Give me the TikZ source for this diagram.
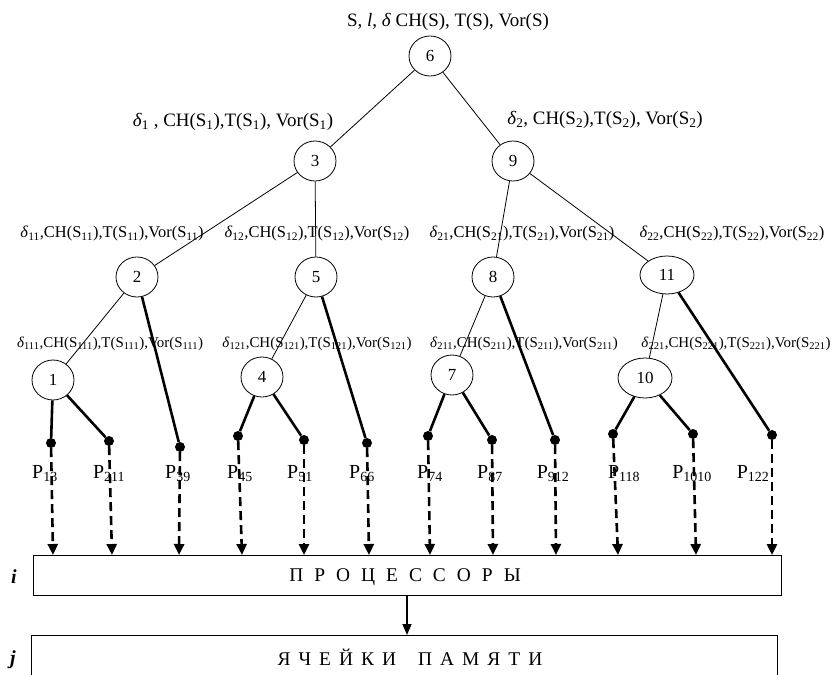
\documentclass[tikz,border=0pt]{standalone}
\usepackage{fontspec}
\setmainfont{Liberation Serif}
\usetikzlibrary{shapes.geometric,arrows.meta}

\newcommand\dl{\textit{δ}}
\newcommand\sbs[1]{\textsubscript{#1}}
\newcommand\ls{\kern 11bp}
\newcommand\lsm{\kern 8bp}

\begin{document}
\begin{tikzpicture}[x=1bp,y=-1bp,
  vertex/.style={draw, ellipse, inner sep=0pt, minimum width=42bp, minimum height=40bp,
                 font=\fontsize{17}{17}\selectfont, line width=0.8bp},
  wide/.style={minimum width=54bp, minimum height=38bp},
  thinedge/.style={line width=0.8bp},
  thickedge/.style={line width=2.6bp},
  leaf/.style={circle, fill, inner sep=0pt, minimum size=10bp},
  flow/.style={line width=2.6bp, dash pattern=on 9bp off 5bp,
               -{Triangle[width=10bp,length=11bp]}},
  toplabel/.style={font=\fontsize{19}{19}\selectfont, inner sep=0pt},
  midlabel/.style={font=\fontsize{16.5}{16.5}\selectfont, inner sep=0pt},
  lowlabel/.style={font=\fontsize{15}{15}\selectfont, inner sep=0pt},
  plabel/.style={font=\fontsize{20}{20}\selectfont, anchor=base, inner sep=0pt},
  bar/.style={draw, line width=0.8bp, inner sep=0pt},
  bartext/.style={font=\fontsize{19.5}{19.5}\selectfont, inner sep=0pt},
  sidetag/.style={font=\fontsize{20}{20}\selectfont\bfseries\itshape, inner sep=0pt},
]
\useasboundingbox (0,0) rectangle (836,675);

% tree vertices
\node[vertex] (n6) at (430,56) {6};
\node[vertex] (n3) at (315,161) {3};
\node[vertex] (n9) at (513,161) {9};
\node[vertex] (n2) at (137,277) {2};
\node[vertex] (n5) at (316,277) {5};
\node[vertex] (n8) at (493,277) {8};
\node[vertex,wide] (n11) at (667,275) {11};
\node[vertex] (n1) at (53,380) {1};
\node[vertex] (n4) at (262,377) {4};
\node[vertex] (n7) at (452,375) {7};
\node[vertex,wide,minimum height=40bp] (n10) at (645,378) {10};

% labels of the vertices
\node[toplabel] (t6) at (448,22) {S, \textit{l}, \dl\ CH(S), T(S), Vor(S)};
\node[toplabel] (t3) at (233,122) {\dl\sbs{1} , CH(S\sbs{1}),T(S\sbs{1}), Vor(S\sbs{1})};
\node[toplabel] (t9) at (605,120) {\dl\sbs{2}, CH(S\sbs{2}),T(S\sbs{2}), Vor(S\sbs{2})};
\node[midlabel] (t2) at (112,234) {\dl\sbs{11},CH(S\sbs{11}),T(S\sbs{11}),Vor(S\sbs{11})};
\node[midlabel] (t5) at (317,234) {\dl\sbs{12},CH(S\sbs{12}),T(S\sbs{12}),Vor(S\sbs{12})};
\node[midlabel] (t8) at (522,234) {\dl\sbs{21},CH(S\sbs{21}),T(S\sbs{21}),Vor(S\sbs{21})};
\node[midlabel] (t11) at (732,234) {\dl\sbs{22},CH(S\sbs{22}),T(S\sbs{22}),Vor(S\sbs{22})};
\node[lowlabel] (t1) at (110,344) {\dl\sbs{111},CH(S\sbs{111}),T(S\sbs{111}),Vor(S\sbs{111})};
\node[lowlabel] (t4) at (317,344) {\dl\sbs{121},CH(S\sbs{121}),T(S\sbs{121}),Vor(S\sbs{121})};
\node[lowlabel] (t7) at (524,344) {\dl\sbs{211},CH(S\sbs{211}),T(S\sbs{211}),Vor(S\sbs{211})};
\node[lowlabel] (t10) at (736,344) {\dl\sbs{221},CH(S\sbs{221}),T(S\sbs{221}),Vor(S\sbs{221})};

% leaves
\node[leaf] (p13) at (51,443) {};
\node[leaf] (p211) at (109,441) {};
\node[leaf] (p39) at (180,447) {};
\node[leaf] (p45) at (238,436) {};
\node[leaf] (p51) at (304,440) {};
\node[leaf] (p66) at (367,443) {};
\node[leaf] (p74) at (428,436) {};
\node[leaf] (p87) at (492,440) {};
\node[leaf] (p912) at (555,440) {};
\node[leaf] (p118) at (613,434) {};
\node[leaf] (p1010) at (693,434) {};
\node[leaf] (p122) at (772,435) {};

% leaf labels
\node[plabel] (l13) at (45,478) {P\sbs{13}};
\node[plabel] (l211) at (109,478) {P\sbs{211}};
\node[plabel] (l39) at (178,478) {P\sbs{39}};
\node[plabel] (l45) at (240,478) {P\sbs{45}};
\node[plabel] (l51) at (300,478) {P\sbs{51}};
\node[plabel] (l66) at (362,478) {P\sbs{66}};
\node[plabel] (l74) at (430,478) {P\sbs{74}};
\node[plabel] (l87) at (490,478) {P\sbs{87}};
\node[plabel] (l912) at (553,478) {P\sbs{912}};
\node[plabel] (l118) at (624,478) {P\sbs{118}};
\node[plabel] (l1010) at (692,478) {P\sbs{1010}};
\node[plabel] (l122) at (753,478) {P\sbs{122}};

% tree edges
\draw[thinedge] (n6) -- (n3);
\draw[thinedge] (n6) -- (n9);
\draw[thinedge] (n3) -- (n2);
\draw[thinedge] (n3) -- (n5);
\draw[thinedge] (n9) -- (n8);
\draw[thinedge] (n9) -- (n11);
\draw[thinedge] (n2) -- (n1);
\draw[thinedge] (n5) -- (n4);
\draw[thinedge] (n8) -- (n7);
\draw[thinedge] (n11) -- (n10);

\draw[thickedge] (n2) -- (p39);
\draw[thickedge] (n5) -- (p66);
\draw[thickedge] (n8) -- (p912);
\draw[thickedge] (n11) -- (p122);
\draw[thickedge] (n1) -- (p13);
\draw[thickedge] (n1) -- (p211);
\draw[thickedge] (n4) -- (p45);
\draw[thickedge] (n4) -- (p51);
\draw[thickedge] (n7) -- (p74);
\draw[thickedge] (n7) -- (p87);
\draw[thickedge] (n10) -- (p118);
\draw[thickedge] (n10) -- (p1010);

% processors and memory
\node[bar, minimum width=748bp, minimum height=40bp] (proc) at (407,575) {};
\node[bartext] (proctext) at (405,577) {П\ls Р\ls О\ls Ц\ls Е\ls С\ls С\ls О\ls Р\ls Ы};
\node[bar, minimum width=746bp, minimum height=80bp] (mem) at (404,675) {};
\node[bartext] (memtext) at (410,657) {Я\lsm Ч\lsm Е\lsm Й\lsm К\lsm И\kern 22bp П\lsm А\lsm М\lsm Я\lsm Т\lsm И};
\node[sidetag] (itag) at (14,577) {i};
\node[sidetag] (jtag) at (13,660) {j};

% arrow tips on the processor bar
\coordinate (a13) at (53,555);
\coordinate (a211) at (112,555);
\coordinate (a39) at (179,555);
\coordinate (a45) at (242,555);
\coordinate (a51) at (304,555);
\coordinate (a66) at (369,555);
\coordinate (a74) at (430,555);
\coordinate (a87) at (493,555);
\coordinate (a912) at (556,555);
\coordinate (a118) at (618,555);
\coordinate (a1010) at (696,555);
\coordinate (a122) at (772,555);

\foreach \k in {13,211,39,45,51,66,74,87,912,118,1010,122}
  \draw[flow] (p\k) -- (a\k);

\coordinate (memin) at (407,635);
\draw[line width=1.6bp, -{Triangle[width=9bp,length=11bp]}] (proc.south -| memin) -- (memin);
\end{tikzpicture}
\end{document}
